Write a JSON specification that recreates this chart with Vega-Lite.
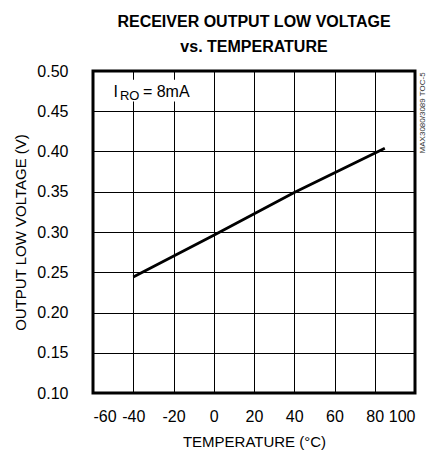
{
  "$schema": "https://vega.github.io/schema/vega-lite/v6.json",
  "width": 322,
  "height": 322,
  "autosize": {"type": "none"},
  "padding": {"left": 93, "top": 71, "right": 13, "bottom": 60},
  "background": "white",
  "title": {
    "text": ["RECEIVER OUTPUT LOW VOLTAGE", "vs. TEMPERATURE"],
    "font": "Liberation Sans",
    "fontSize": 16,
    "fontWeight": "bold",
    "lineHeight": 25,
    "anchor": "middle",
    "offset": 8,
    "color": "black"
  },
  "config": {
    "view": {"stroke": "black", "strokeWidth": 3},
    "font": "Liberation Sans",
    "axis": {
      "grid": true,
      "gridColor": "black",
      "gridOpacity": 1,
      "gridWidth": 1,
      "domain": false,
      "ticks": false,
      "labelFont": "Liberation Sans",
      "labelFontSize": 16,
      "labelColor": "black",
      "titleFont": "Liberation Sans",
      "titleFontSize": 15,
      "titleFontWeight": "normal",
      "titleColor": "black"
    }
  },
  "datasets": {
    "curve": [
      {"t": -40, "v": 0.244},
      {"t": 0, "v": 0.296},
      {"t": 40, "v": 0.349},
      {"t": 85, "v": 0.404}
    ],
    "box": [{"t": -52, "t2": -8, "v": 0.462, "v2": 0.489}],
    "labelMain1": [{"t": -49.8, "v": 0.468, "label": "I"}],
    "labelSub": [{"t": -46.6, "v": 0.464, "label": "RO"}],
    "labelMain2": [{"t": -35.2, "v": 0.468, "label": "= 8mA"}],
    "side": [{"t": 104, "v": 0.448, "label": "MAX3080/3089 TOC-5"}]
  },
  "encoding": {
    "x": {
      "field": "t",
      "type": "quantitative",
      "scale": {"domain": [-60, 100], "nice": false, "zero": false},
      "axis": {
        "values": [-60, -40, -20, 0, 20, 40, 60, 80, 100],
        "labelExpr": "'' + datum.value",
        "title": "TEMPERATURE (°C)",
        "labelPadding": 15,
        "titlePadding": 10
      }
    },
    "y": {
      "field": "v",
      "type": "quantitative",
      "scale": {"domain": [0.1, 0.5], "nice": false, "zero": false},
      "axis": {
        "values": [0.1, 0.15, 0.2, 0.25, 0.3, 0.35, 0.4, 0.45, 0.5],
        "format": ".2f",
        "title": "OUTPUT LOW  VOLTAGE (V)",
        "labelPadding": 25,
        "titlePadding": 8
      }
    }
  },
  "layer": [
    {
      "data": {"name": "box"},
      "mark": {"type": "rect", "fill": "white", "stroke": null},
      "encoding": {"x2": {"field": "t2"}, "y2": {"field": "v2"}}
    },
    {
      "data": {"name": "curve"},
      "mark": {"type": "line", "color": "black", "strokeWidth": 2.8}
    },
    {
      "data": {"name": "labelMain1"},
      "mark": {"type": "text", "align": "left", "baseline": "alphabetic", "fontSize": 16, "color": "black"},
      "encoding": {"text": {"field": "label"}}
    },
    {
      "data": {"name": "labelSub"},
      "mark": {"type": "text", "align": "left", "baseline": "alphabetic", "fontSize": 13, "color": "black"},
      "encoding": {"text": {"field": "label"}}
    },
    {
      "data": {"name": "labelMain2"},
      "mark": {"type": "text", "align": "left", "baseline": "alphabetic", "fontSize": 16, "color": "black"},
      "encoding": {"text": {"field": "label"}}
    },
    {
      "data": {"name": "side"},
      "mark": {"type": "text", "align": "center", "baseline": "middle", "angle": 270, "fontSize": 8, "color": "#333"},
      "encoding": {"text": {"field": "label"}}
    }
  ]
}
